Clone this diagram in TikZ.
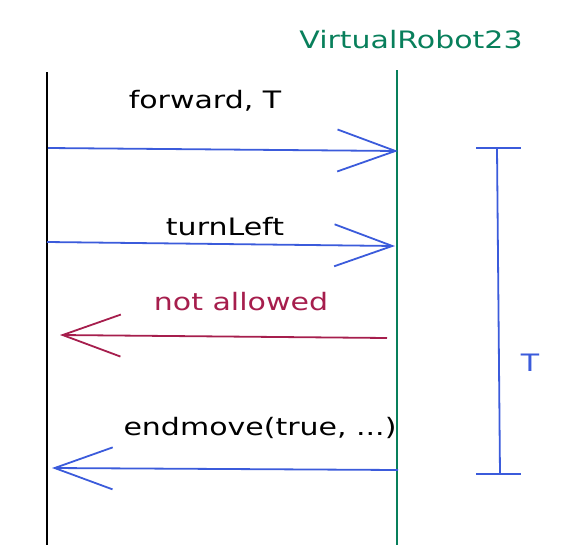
\documentclass[tikz,border=0pt]{standalone}
\usepackage{fontspec}
\usetikzlibrary{positioning, arrows.meta}
\newfontfamily\hand[FakeStretch=1.25]{DejaVu Sans}
\definecolor{exblue}{HTML}{3B5BDB}
\definecolor{exred}{HTML}{A61E4D}
\definecolor{exgreen}{HTML}{087F5B}
\tikzset{%
  msg/.style={-{Straight Barb[length=58pt, width=42pt, line width=1.8pt]}, line width=1.8pt, color=exblue},
  bad/.style={msg, color=exred},
  life/.style={line width=1.8pt},
  lbl/.style={font=\hand\fontsize{24}{28}\selectfont, inner sep=0pt}
}

\begin{document}
\begin{tikzpicture}[x=1pt, y=-1pt]
        \useasboundingbox (0,0) rectangle (563,555);
        % lifelines
        \coordinate (lt) at (47,72);
        \coordinate (lb) at (47,545);
        \coordinate (rt) at (397,70);
        \coordinate (rb) at (397,545);
        \node[lbl, text=exgreen] (robot) at (411,40) {VirtualRobot23};
        \draw[life] (lt) -- (lb);
        \draw[life, exgreen] (rt) -- (rb);
        % messages
        \coordinate (a1s) at (48,148);
        \coordinate (a1e) at (398,151);
        \coordinate (a2s) at (47,242);
        \coordinate (a2e) at (395,246);
        \coordinate (a3s) at (387,338);
        \coordinate (a3e) at (60,335);
        \coordinate (a4s) at (398,470);
        \coordinate (a4e) at (52,468);
        \node[lbl] (fwd) at (205,101) {forward, T};
        \node[lbl] (left) at (225,227) {turnLeft};
        \node[lbl, text=exred] (deny) at (241,302) {not allowed};
        \node[lbl] (done) at (260,428) {endmove(true, ...)};
        \path[msg]
        (a1s) edge (a1e)
        (a2s) edge (a2e)
        (a4s) edge (a4e);
        \draw[bad] (a3s) -- (a3e);
        % duration T
        \coordinate (bt) at (497,148);
        \coordinate (bb) at (500,474);
        \draw[life, exblue] (bt) -- (bb);
        \draw[life, exblue] ([xshift=-21pt]bt) -- ([xshift=24pt]bt);
        \draw[life, exblue] ([xshift=-24pt]bb) -- ([xshift=21pt]bb);
        \node[lbl, text=exblue] (dur) at (530,363) {T};
      \end{tikzpicture}
\end{document}
